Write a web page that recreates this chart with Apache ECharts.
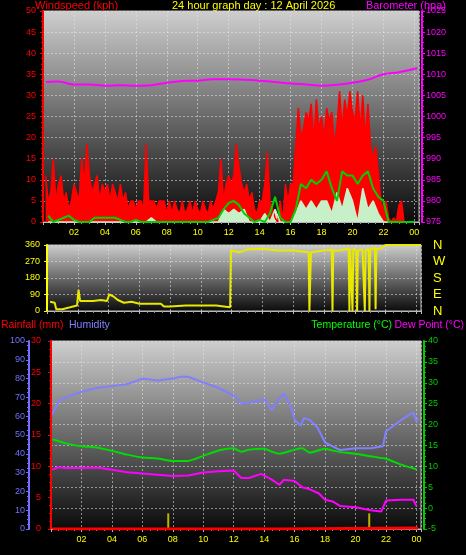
<!DOCTYPE html>
<html><head><meta charset="utf-8">
<script src="https://cdn.jsdelivr.net/npm/echarts@6/dist/echarts.min.js"></script>
<style>html,body{margin:0;background:#000}#c{width:466px;height:555px}</style>
</head><body><div id="c"></div>
<script>
// Wind gust (kph), every 10 min from 00:10
const gust = [
11,5,7,15,5,9, 11,5,7,3,5,9, 7,5,15,9,18.5,11, 7,9,11,5,9,7,
9,5,9,7,5,9, 5,7,3,5,5,3, 5,5,3,18.5,5,5, 5,3,5,5,5,2,
5,2,5,3,2,5, 2,3,5,2,5,3, 2,5,3,2,5,3, 5,7,15,5,9,11,
9,11,18.5,13,9,7, 9,5,7,3,2,5, 5,9,16.5,5,3,1, 0,5,0,9,5,9,
9,18,27,20,22,26, 24,28,19,29,22,25, 20,27,24,26,18,23, 31,22,29,25,31,26,
24,31,22,30,20,28, 18,15,18,12,5,3, 5,1,0,1,0,4, 5,0,0,0,0,0];
// Average wind speed (kph), every 20 min from 00:20
const avgWind = [1.5,0,0.5, 1,1.5,0.5, 0,0,0, 1,1,1, 1,1,0.5, 0,0,0.5, 0,0,0, 0,0,0,
0,0,0, 0,0,0, 0,0,0.5, 1,3,4.5, 5,4,2, 1,0,0.5, 0,2,6, 1,0,0,
3,9,8, 10,9,10, 12,8,5, 12,11,11, 9,11,12, 8,6,5, 0,0,0, 0,0,0];
// Wind speed (kph), every 20 min from 00:20
const speed = [0,0,0, 0,0,0, 0,0,0, 0,0,0, 0,0,0, 0,0,0, 0,0,1, 0,0,0,
0,0,0, 0,0,0, 0,0,0, 0,3,2, 3,2,3, 0,0,0, 2,0,3, 0,0,0,
2,5,3, 5,3,5, 5,2,7, 3,8,5, 0,8,3, 5,2,0, 0,0,0, 0,0,0];
const baroT = [0.2,1,2,3,4,5,6,7,8,9,10,11,12,13,14,15,16,17,18,19,20,21,22,23,24.2];
const baroV = [1008.2,1008.3,1007.6,1007.6,1007.3,1007.4,1007.3,1007.4,1008,1008.4,1008.5,1008.8,1008.8,1008.7,1008.5,1008.2,1007.8,1007.6,1007.3,1007.5,1008,1008.7,1010,1010.5,1011.5];
const dirT = [0.2,0.5,0.6,1,1.5,1.95,2.05,2.15,3,3.5,3.9,4.05,4.3,4.6,5,5.5,6,7,7.4,7.6,8,9,10,11,11.5,11.9,11.95,12.5,13,14,15,16,17,17.05,17.1,17.15,18,18.5,18.55,18.6,19,19.6,19.65,19.7,19.8,19.85,19.9,20.1,20.15,20.2,20.5,20.6,20.65,20.7,20.9,20.95,21,21.3,21.35,21.4,21.7,22,24.3];
const dirV = [50,45,10,10,20,30,115,55,55,60,55,90,80,60,45,50,40,40,40,25,25,30,30,30,25,20,330,320,335,340,330,330,320,0,0,320,330,335,0,330,330,340,0,340,345,0,340,330,0,330,335,340,0,330,340,0,335,345,10,340,340,360,360];
const humT = [0.1,0.5,1,2,3,4,5,6,7,8,8.5,9,10,11,12,12.5,13,14,14.5,15,15.3,15.8,16,16.4,16.6,17,17.5,18,18.5,19,20,20.5,21,21.8,22,23,23.8,24,24.1];
const humV = [61,68,70,73,75,76,77,80,79,80,81,81,78,75,71,67,67,69,63,70,72,64,58,55,59,58,54,46,44,42,43,43,43,44,52,58,62,57,59];
const tempT = [0.1,1,2,3,4,5,6,7,8,9,10,11,12,12.5,13,14,14.5,15,16,16.5,17,18,18.5,19,20,21,22,23,24];
const tempV = [16.5,15.5,14.8,14.5,13.7,12.8,12.1,11.9,11.3,11.3,12.5,13.8,14.3,13.5,14,14.2,13.5,13,14,14.3,13.3,14.2,13.8,13.4,13,12.4,11.8,10.4,9.3];
const dewT = [0.1,0.5,1,2,3,4,5,6,7,8,9,10,11,12,12.5,13,13.8,14.5,15,15.3,16,16.5,17,17.6,18,18.5,19,20,21,21.7,22,23,23.8,24];
const dewV = [9.2,9.8,9.6,9.6,9.7,9.2,8.6,8.3,8.0,7.7,7.8,8.5,8.8,9.0,7.2,7.2,8.2,6.8,5.6,6.8,6.5,5.0,4.5,3.5,2,1.6,0.5,0.2,-0.5,-0.8,1.8,2.0,2.0,0.5];
const rainT = [0.1,15,15.01,24.1];
const rainV = [0,0,0.15,0.15];
const rateT = [7.7,20.9];
const rateV = [2.5,2.5];
const hourLabels = ['','02','04','06','08','10','12','14','16','18','20','22','00'];

const F = 'Liberation Sans';
const pair = (t, v) => t.map((x, i) => [x, v[i]]);
const step = (arr, s, o) => arr.map((v, i) => [o + i * s, v]);
const bg = {type:'linear',x:0,y:0,x2:0,y2:1,colorStops:[{offset:0,color:'#cfcfcf'},{offset:0.5,color:'#6a6a6a'},{offset:1,color:'#0a0a0a'}]};
const grids = [
 {left:43,right:47,top:11,height:211,show:true,backgroundColor:bg,borderColor:'#bbb',borderWidth:1},
 {left:47,right:45,top:245,height:66,show:true,backgroundColor:bg,borderColor:'#bbb',borderWidth:1},
 {left:51,right:45,top:341,height:188,show:true,backgroundColor:bg,borderColor:'#bbb',borderWidth:1}];
const split = {show:true,lineStyle:{color:'rgba(230,230,230,0.55)',type:[2,2],width:1}};
function xa(i, showLab){
 return {type:'value',gridIndex:i,min:0,max:24.3,interval:2,
  axisLine:{show:true,lineStyle:{color:'#bbb'}},axisTick:{show:true,length:3,lineStyle:{color:'#bbb'}},
  minorTick:{show:true,splitNumber:4,length:2,lineStyle:{color:'#999'}},
  splitLine:split,
  axisLabel:{show:showLab,color:'#ffff00',fontFamily:F,fontSize:9,margin:6,formatter:v=>hourLabels[Math.round(v/2)]||''}};
}
function ya(i,min,max,iv,col,pos,off,extra){
 return Object.assign({type:'value',gridIndex:i,min,max,interval:iv,position:pos,offset:off,
  axisLine:{show:true,lineStyle:{color:col,width:2}},axisTick:{show:true,length:3,inside:false,lineStyle:{color:col}},
  minorTick:{show:true,splitNumber:4,length:2,lineStyle:{color:col}},
  splitLine:{show:false},
  axisLabel:{color:col,fontFamily:F,fontSize:9,margin:4,formatter:v=>String(v)}},extra||{});
}
const chart = echarts.init(document.getElementById('c'));
chart.setOption({
 backgroundColor:'#000',animation:false,
 grid:grids,
 xAxis:[xa(0,true),xa(1,false),xa(2,true)],
 yAxis:[
  ya(0,0,50,5,'#ff0000','left',3,{splitLine:split}),
  ya(0,975,1025,5,'#ff00ff','right',3),
  ya(1,0,360,90,'#ffff00','left',3,{minorTick:{show:false},splitLine:split}),
  ya(1,0,360,90,'#ffff00','right',8,{axisLine:{show:false},axisTick:{show:false},minorTick:{show:false},
    axisLabel:{color:'#ffff00',fontFamily:F,fontSize:13,margin:4,formatter:v=>({0:'N',90:'E',180:'S',270:'W',360:'N'})[v]}}),
  ya(2,0,30,5,'#ff0000','left',6),
  ya(2,0,100,10,'#7070ff','left',22),
  ya(2,-5,40,5,'#00cc00','right',3,{splitLine:split})
 ],
 graphic:[
  {type:'text',left:35,top:0,style:{text:'Windspeed (kph)',fill:'#ff0000',font:'11px '+F}},
  {type:'text',left:172,top:0,style:{text:'24 hour graph day : 12 April 2026',fill:'#ffff00',font:'11px '+F}},
  {type:'text',right:20,top:0,style:{text:'Barometer (hpa)',fill:'#ff00ff',font:'11px '+F}},
  {type:'text',left:1,top:320,style:{text:'Rainfall (mm)',fill:'#ff0000',font:'10.5px '+F}},
  {type:'text',left:69,top:320,style:{text:'Humidity',fill:'#8080ff',font:'10.5px '+F}},
  {type:'text',right:74,top:320,style:{text:'Temperature (°C)',fill:'#00ff00',font:'10.5px '+F}},
  {type:'text',right:2,top:320,style:{text:'Dew Point (°C)',fill:'#ff00ff',font:'10.5px '+F}}
 ],
 series:[
  {type:'line',xAxisIndex:0,yAxisIndex:0,data:step(gust,1/6,1/6),symbol:'none',
   lineStyle:{color:'#ff0000',width:1.5},areaStyle:{color:'#ff0000',opacity:1}},
  {type:'line',xAxisIndex:0,yAxisIndex:0,data:step(speed,1/3,1/3),symbol:'none',
   lineStyle:{color:'#c8f0c8',width:1.5},areaStyle:{color:'#c8f0c8',opacity:1}},
  {type:'line',xAxisIndex:0,yAxisIndex:0,data:step(avgWind,1/3,1/3),symbol:'none',
   lineStyle:{color:'#00d000',width:2}},
  {type:'line',xAxisIndex:0,yAxisIndex:1,data:pair(baroT,baroV),symbol:'none',smooth:0.3,
   lineStyle:{color:'#ff00ff',width:2}},
  {type:'line',xAxisIndex:1,yAxisIndex:2,data:pair(dirT,dirV),symbol:'none',
   lineStyle:{color:'#e8e800',width:2}},
  {type:'bar',xAxisIndex:2,yAxisIndex:4,data:pair(rateT,rateV),barWidth:2,itemStyle:{color:'#c0b000'}},
  {type:'line',xAxisIndex:2,yAxisIndex:4,data:pair(rainT,rainV),symbol:'none',lineStyle:{color:'#ff0000',width:3}},
  {type:'line',xAxisIndex:2,yAxisIndex:5,data:pair(humT,humV),symbol:'none',lineStyle:{color:'#8080ff',width:2}},
  {type:'line',xAxisIndex:2,yAxisIndex:6,data:pair(tempT,tempV),symbol:'none',smooth:0.2,lineStyle:{color:'#00dd00',width:2}},
  {type:'line',xAxisIndex:2,yAxisIndex:6,data:pair(dewT,dewV),symbol:'none',lineStyle:{color:'#ff00ff',width:2}}
 ]
});
</script></body></html>
